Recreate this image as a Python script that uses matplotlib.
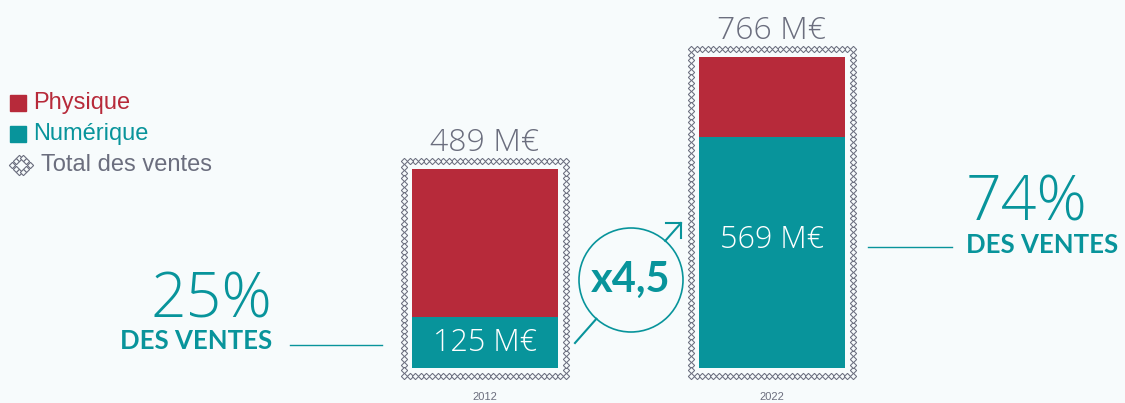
import matplotlib.pyplot as plt
import numpy as np
from matplotlib.patches import Ellipse

years = ["2012", "2022"]
numerique = [125, 569]
total = [489, 766]
physique = [t - n for t, n in zip(total, numerique)]
parts = ["25%", "74%"]
ratio = "x4,5"

RED = "#b72a3a"
TEAL = "#08949b"
GREY = "#6b6e7e"
BG = "#f7fbfc"
THIN = "Open Sans"
BOLD = "Lato"

W, H = 1125, 403
fig = plt.figure(figsize=(W / 100, H / 100), dpi=100, facecolor=BG)
ax = fig.add_axes([0, 0, 1, 1], facecolor=BG)
ax.axis("off")

# scales: 287 px between bars, 0.406 px per M€, baseline 35 px above bottom
px_x = 287.0
px_y = 0.406
ax.set_xlim(-485 / px_x, 1 + (W - 772) / px_x)
ax.set_ylim(-35 / px_y, -35 / px_y + H / px_y)

x = np.arange(len(years))
bw = 146 / px_x
ax.bar(x, numerique, width=bw, color=TEAL, zorder=2)
ax.bar(x, physique, bottom=numerique, width=bw, color=RED, zorder=2)


def px(xp, yp):
    # pixel (from top-left) -> axes fraction
    return xp / W, 1 - yp / H


# frames of small diamonds around each bar (total des ventes)
pad_x = 8 / px_x
pad_y = 8 / px_y
step = 5.6
for xi, t in zip(x, total):
    x0, x1 = xi - bw / 2 - pad_x, xi + bw / 2 + pad_x
    y0, y1 = -pad_y, t + pad_y
    pts = []
    for (ax0, ay0), (ax1, ay1) in [((x0, y0), (x1, y0)), ((x1, y0), (x1, y1)),
                                   ((x1, y1), (x0, y1)), ((x0, y1), (x0, y0))]:
        length = abs(ax1 - ax0) * px_x + abs(ay1 - ay0) * px_y
        n = int(round(length / step))
        for k in range(n):
            f = k / n
            pts.append((ax0 + (ax1 - ax0) * f, ay0 + (ay1 - ay0) * f))
    pts = np.array(pts)
    ax.plot(pts[:, 0], pts[:, 1], ls="none", marker="D", ms=3.2, mew=0.75,
            mec=GREY, mfc=BG, zorder=1)

# total labels, inner labels, years
lab_frac = [0.5, 0.555]
for xi, t, n, fr, yr in zip(x, total, numerique, lab_frac, years):
    ax.annotate(f"{t} M€", xy=(xi, t), xytext=(0, 13), textcoords="offset points",
                ha="center", va="baseline", fontsize=23, color=GREY,
                family=THIN, fontweight="light")
    ax.text(xi, n * fr, f"{n} M€", ha="center", va="center", fontsize=22,
            color="white", family=THIN, fontweight="light", zorder=3)
    ax.text(xi, -pad_y - 16 / px_y, yr, ha="center", va="top",
            fontsize=8, color=GREY, family="Liberation Sans")

# percentage callouts
ax.text(*px(272, 317), parts[0], transform=ax.transAxes, ha="right",
        va="baseline", fontsize=45, color=TEAL, family=THIN, fontweight="light")
ax.text(*px(272, 349), "DES VENTES", transform=ax.transAxes, ha="right",
        va="baseline", fontsize=18.5, color=TEAL, family=BOLD, fontweight="bold")
ax.plot([290 / W, 382 / W], [1 - 345 / H] * 2, transform=ax.transAxes,
        color=TEAL, lw=1)

ax.text(*px(966, 221), parts[1], transform=ax.transAxes, ha="left",
        va="baseline", fontsize=45, color=TEAL, family=THIN, fontweight="light")
ax.text(*px(966, 253), "DES VENTES", transform=ax.transAxes, ha="left",
        va="baseline", fontsize=18.5, color=TEAL, family=BOLD, fontweight="bold")
ax.plot([868 / W, 952 / W], [1 - 247 / H] * 2, transform=ax.transAxes,
        color=TEAL, lw=1)

# growth circle + arrow
cx, cy, r = 631, 280, 52
ax.add_patch(Ellipse(px(cx, cy), 2 * r / W, 2 * r / H, transform=ax.transAxes,
                     fill=False, ec=TEAL, lw=1.2))
p0 = np.array([575.0, 343.0])
p1 = np.array([681.0, 223.0])
d = (p1 - p0) / np.linalg.norm(p1 - p0)
c = np.array([cx, cy])
proj = np.dot(c - p0, d)
half = np.sqrt(r ** 2 - np.linalg.norm(c - p0 - proj * d) ** 2)
a = p0 + (proj - half) * d
b = p0 + (proj + half) * d
for s, e in [(p0, a), (b, p1)]:
    ax.plot([s[0] / W, e[0] / W], [1 - s[1] / H, 1 - e[1] / H],
            transform=ax.transAxes, color=TEAL, lw=1.5)
ax.plot([666 / W, 681 / W, 681 / W], [1 - 223 / H, 1 - 223 / H, 1 - 238 / H],
        transform=ax.transAxes, color=TEAL, lw=1.5)
ax.text(*px(cx, cy), ratio, transform=ax.transAxes, ha="center", va="center",
        fontsize=30, color=TEAL, family=BOLD, fontweight="bold")

# legend
leg = [("Physique", RED), ("Numérique", TEAL), ("Total des ventes", GREY)]
for i, (lab, col) in enumerate(leg):
    yy = 103 + i * 31
    ax.text(*px(33 if i < 2 else 41, yy), lab, transform=ax.transAxes,
            ha="left", va="center", fontsize=17, color=col,
            family="Liberation Sans")
    if i < 2:
        ax.plot(17.5 / W, 1 - yy / H, transform=ax.transAxes, marker="s",
                ms=11, color=col, ls="none")
# diamond icon for total
for dx, dy in [(-6, -4), (-6, 4), (6, -4), (6, 4), (-2, -8), (2, -8), (-2, 8),
               (2, 8), (-10, 0), (10, 0)]:
    ax.plot((21 + dx * 0.9) / W, 1 - (165 + dy * 0.9) / H,
            transform=ax.transAxes, marker="D", ms=3.2, mew=0.8, mec=GREY,
            mfc=BG, ls="none")

fig.savefig("out.png", dpi=100, facecolor=BG)
